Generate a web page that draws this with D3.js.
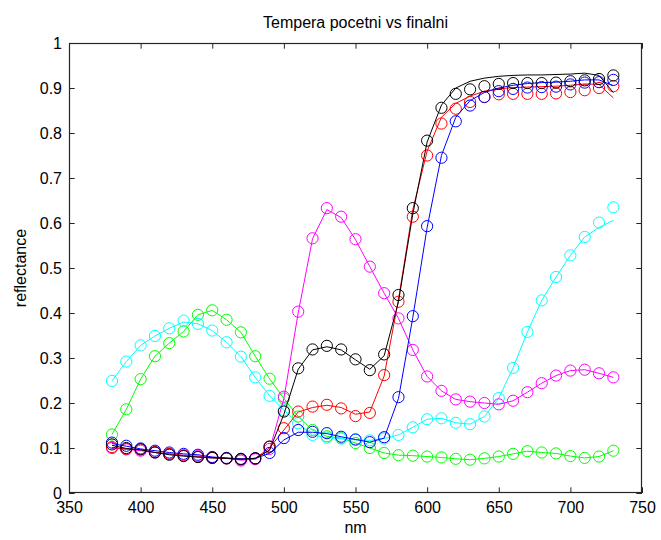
<!DOCTYPE html>
<html>
<head>
<meta charset="utf-8">
<script src="https://cdn.jsdelivr.net/npm/d3@7"></script>
<style>
  html, body { margin: 0; padding: 0; background: #fff; }
  svg { display: block; font-family: "Liberation Sans", Arial, sans-serif; }
</style>
</head>
<body>
<svg id="chart" width="661" height="540"></svg>
<script>
// ---- data ----
const wavelengths = [380,390,400,410,420,430,440,450,460,470,480,490,500,510,520,530,540,550,
                     560,570,580,590,600,610,620,630,640,650,660,670,680,690,700,710,720,730];
const xTicks = [350,400,450,500,550,600,650,700,750];
const yTicks = [0,0.1,0.2,0.3,0.4,0.5,0.6,0.7,0.8,0.9,1];
const yTickLabels = ["0","0.1","0.2","0.3","0.4","0.5","0.6","0.7","0.8","0.9","1"];

// initial (line) and final (circle markers) reflectance per sample
const blackLine = [0.106,0.099,0.096,0.090,0.085,0.082,0.080,0.078,0.077,0.075,0.077,0.095,0.175,0.275,0.318,0.325,0.318,0.296,
                   0.275,0.305,0.425,0.620,0.780,0.862,0.900,0.915,0.922,0.926,0.928,0.929,0.929,0.930,0.931,0.933,0.928,0.890];
const blackMark = [0.108,0.100,0.097,0.090,0.085,0.082,0.080,0.078,0.077,0.075,0.077,0.103,0.181,0.277,0.319,0.327,0.319,0.297,
                   0.273,0.308,0.440,0.633,0.783,0.856,0.887,0.897,0.904,0.909,0.911,0.911,0.911,0.912,0.915,0.917,0.920,0.928];
const redLine   = [0.101,0.098,0.096,0.090,0.087,0.083,0.080,0.078,0.077,0.075,0.077,0.100,0.140,0.180,0.190,0.195,0.190,0.175,
                   0.180,0.260,0.430,0.630,0.760,0.835,0.866,0.882,0.893,0.898,0.901,0.902,0.903,0.904,0.906,0.909,0.908,0.878];
const redMark   = [0.102,0.098,0.097,0.091,0.087,0.083,0.080,0.078,0.077,0.075,0.077,0.103,0.144,0.181,0.192,0.196,0.188,0.171,
                   0.178,0.262,0.425,0.614,0.750,0.821,0.854,0.869,0.880,0.886,0.887,0.887,0.887,0.888,0.891,0.895,0.900,0.904];
const blueLine  = [0.110,0.104,0.098,0.094,0.090,0.087,0.085,0.080,0.078,0.076,0.077,0.088,0.118,0.135,0.135,0.132,0.125,0.119,
                   0.113,0.122,0.210,0.390,0.590,0.750,0.835,0.872,0.890,0.900,0.906,0.910,0.912,0.913,0.915,0.918,0.918,0.905];
const blueMark  = [0.112,0.105,0.099,0.094,0.090,0.087,0.085,0.080,0.078,0.076,0.077,0.089,0.122,0.140,0.136,0.133,0.125,0.119,
                   0.113,0.124,0.213,0.393,0.593,0.745,0.826,0.861,0.880,0.893,0.898,0.901,0.902,0.903,0.908,0.912,0.913,0.918];
const magentaLine = [0.100,0.097,0.094,0.090,0.087,0.084,0.082,0.079,0.077,0.073,0.075,0.096,0.210,0.400,0.565,0.630,0.612,0.563,
                     0.503,0.444,0.388,0.318,0.259,0.227,0.208,0.203,0.200,0.197,0.205,0.224,0.244,0.261,0.272,0.274,0.266,0.257];
const magentaMark = [0.100,0.097,0.094,0.090,0.087,0.084,0.082,0.079,0.077,0.072,0.075,0.098,0.214,0.403,0.566,0.633,0.614,0.564,
                     0.503,0.444,0.388,0.318,0.259,0.227,0.208,0.203,0.200,0.197,0.205,0.224,0.244,0.261,0.272,0.274,0.266,0.257];
const cyanLine  = [0.249,0.292,0.328,0.349,0.366,0.380,0.376,0.361,0.335,0.303,0.257,0.216,0.184,0.155,0.129,0.123,0.121,0.118,
                   0.117,0.121,0.129,0.146,0.164,0.166,0.156,0.153,0.170,0.211,0.278,0.358,0.428,0.480,0.528,0.569,0.590,0.606];
const cyanMark  = [0.249,0.292,0.328,0.349,0.366,0.383,0.376,0.361,0.335,0.303,0.257,0.216,0.184,0.155,0.129,0.123,0.121,0.118,
                   0.117,0.121,0.129,0.146,0.164,0.166,0.156,0.153,0.170,0.211,0.278,0.358,0.428,0.480,0.528,0.569,0.601,0.635];
const greenLine = [0.130,0.186,0.253,0.304,0.333,0.359,0.396,0.406,0.385,0.357,0.304,0.254,0.210,0.170,0.140,0.126,0.122,0.111,
                   0.100,0.089,0.084,0.083,0.081,0.079,0.076,0.074,0.077,0.081,0.087,0.093,0.090,0.088,0.082,0.078,0.081,0.094];
const greenMark = [0.130,0.186,0.253,0.304,0.333,0.359,0.396,0.406,0.385,0.357,0.304,0.254,0.210,0.170,0.140,0.126,0.122,0.111,
                   0.100,0.089,0.084,0.083,0.081,0.079,0.076,0.074,0.077,0.081,0.087,0.093,0.090,0.088,0.082,0.078,0.081,0.094];

const seriesColors = ["#00ff00","#00ffff","#ff00ff","#ff0000","#0000ff","#000000"];
const seriesLines  = [greenLine, cyanLine, magentaLine, redLine, blueLine, blackLine];
const seriesMarks  = [greenMark, cyanMark, magentaMark, redMark, blueMark, blackMark];

const titleText = "Tempera pocetni vs finalni";
const xLabel = "nm";
const yLabel = "reflectance";

// ---- layout ----
const svg = d3.select("#chart");
const L = 69, R = 642, T = 43, B = 493;
const x = d3.scaleLinear().domain([350, 750]).range([L, R]);
const y = d3.scaleLinear().domain([0, 1]).range([B, T]);
const tick = 5.7;
const axisColor = "#262626";
const fs = 16;

svg.append("rect").attr("x", L).attr("y", T).attr("width", R - L).attr("height", B - T)
  .attr("fill", "#fff");

// data
const line = d3.line().x((d, i) => x(wavelengths[i])).y(d => y(d));
const g = svg.append("g");
seriesColors.forEach((c, k) => {
  g.append("path").datum(seriesLines[k]).attr("d", line)
    .attr("fill", "none").attr("stroke", c).attr("stroke-width", 1);
  g.selectAll(null).data(seriesMarks[k]).enter().append("circle")
    .attr("cx", (d, i) => x(wavelengths[i])).attr("cy", d => y(d))
    .attr("r", 5.6).attr("fill", "none").attr("stroke", c).attr("stroke-width", 1);
});

// axes
function styleAxis(sel) {
  sel.select(".domain").remove();
  sel.selectAll(".tick line").attr("stroke", axisColor);
  sel.selectAll(".tick text").attr("fill", "#000").attr("font-size", fs)
    .attr("font-family", "'Liberation Sans', Arial, sans-serif");
}
svg.append("g").attr("transform", `translate(0,${B})`)
  .call(d3.axisBottom(x).tickValues(xTicks).tickFormat(d3.format("d")).tickSizeInner(-tick).tickSizeOuter(0).tickPadding(9))
  .call(styleAxis);
svg.append("g").attr("transform", `translate(0,${T})`)
  .call(d3.axisTop(x).tickValues(xTicks).tickFormat("").tickSizeInner(-tick).tickSizeOuter(0))
  .call(styleAxis);
svg.append("g").attr("transform", `translate(${L},0)`)
  .call(d3.axisLeft(y).tickValues(yTicks).tickFormat((d, i) => yTickLabels[i]).tickSizeInner(-tick).tickSizeOuter(0).tickPadding(7))
  .call(styleAxis);
svg.append("g").attr("transform", `translate(${R},0)`)
  .call(d3.axisRight(y).tickValues(yTicks).tickFormat("").tickSizeInner(-tick).tickSizeOuter(0))
  .call(styleAxis);

svg.append("rect").attr("x", L + 0.5).attr("y", T + 0.5).attr("width", R - L - 1).attr("height", B - T - 1)
  .attr("fill", "none").attr("stroke", axisColor).attr("stroke-width", 1.2);

// labels
svg.append("text").attr("x", (L + R) / 2).attr("y", 28).attr("text-anchor", "middle")
  .attr("font-size", fs).text(titleText);
svg.append("text").attr("x", (L + R) / 2).attr("y", 533).attr("text-anchor", "middle")
  .attr("font-size", fs).text(xLabel);
svg.append("text").attr("transform", `translate(26,${(T + B) / 2}) rotate(-90)`).attr("text-anchor", "middle")
  .attr("font-size", fs).text(yLabel);
</script>
</body>
</html>
